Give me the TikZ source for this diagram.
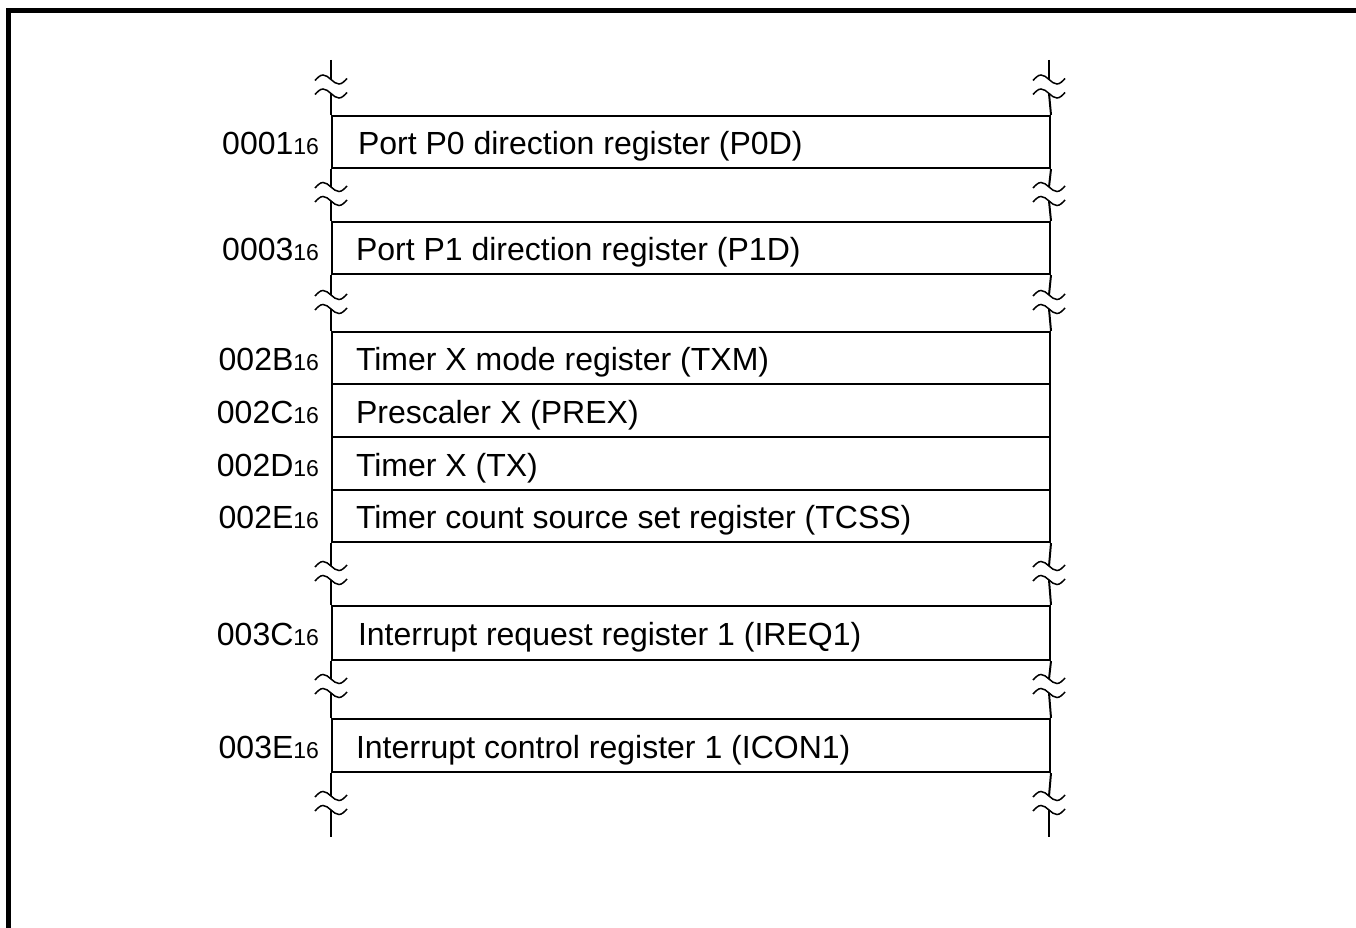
\documentclass[tikz,border=0pt]{standalone}
\usepackage{fontspec}
\setmainfont{Liberation Sans}
\newcommand\hexsub[1]{{\fontsize{23}{27}\selectfont #1}}
\begin{document}
\begin{tikzpicture}[x=1pt,y=-1pt,line width=2pt,
  regbox/.style={draw, minimum width=718pt, minimum height=#1, anchor=north west, inner sep=0pt},
  regtext/.style={anchor=base west, inner sep=0pt, font=\fontsize{32}{38}\selectfont},
  addr/.style={anchor=base east, inner sep=0pt, font=\fontsize{32}{38}\selectfont},
  brk/.pic={\draw[line width=1.5pt] (-16,1) sin (-8,-4.5) cos (0,0) sin (8,4.5) cos (16,-1);}]
\useasboundingbox (0,0) rectangle (1356,928);
% frame
\draw[line width=5pt] (8.5,928) -- (8.5,10.5) -- (1356,10.5);
% register boxes
\node[regbox=52pt] (r1) at (331,115) {};
\node[regbox=52pt] (r2) at (331,221) {};
\node[regbox=52pt] (r3) at (331,331) {};
\node[regbox=53pt] (r4) at (331,383) {};
\node[regbox=53pt] (r5) at (331,436) {};
\node[regbox=52pt] (r6) at (331,489) {};
\node[regbox=54pt] (r7) at (331,605) {};
\node[regbox=53pt] (r8) at (331,718) {};
% texts
\node[regtext] (t1) at (357,154.5) {Port P0 direction register (P0D)};
\node[regtext] (t2) at (355,260.5) {Port P1 direction register (P1D)};
\node[regtext] (t3) at (355,370.5) {Timer X mode register (TXM)};
\node[regtext] (t4) at (355,423) {Prescaler X (PREX)};
\node[regtext] (t5) at (355,476) {Timer X (TX)};
\node[regtext] (t6) at (355,528.5) {Timer count source set register (TCSS)};
\node[regtext] (t7) at (357,645.5) {Interrupt request register 1 (IREQ1)};
\node[regtext] (t8) at (355,758) {Interrupt control register 1 (ICON1)};
% addresses
\node[addr] (a1) at (320,154.5) {0001\hexsub{16}};
\node[addr] (a2) at (320,260.5) {0003\hexsub{16}};
\node[addr] (a3) at (320,370.5) {002B\hexsub{16}};
\node[addr] (a4) at (320,423) {002C\hexsub{16}};
\node[addr] (a5) at (320,476) {002D\hexsub{16}};
\node[addr] (a6) at (320,528.5) {002E\hexsub{16}};
\node[addr] (a7) at (320,645.5) {003C\hexsub{16}};
\node[addr] (a8) at (320,758) {003E\hexsub{16}};
% breaks
\foreach \s/\x in {L/331,R/1049}{
  \coordinate (top\s) at (\x,60);
  \coordinate (bot\s) at (\x,837);
  \foreach \n/\m in {a/86.5,b/194,c/302,d/573,e/686,f/803}{
    \coordinate (u\n\s) at (\x,\m-7);
    \coordinate (l\n\s) at (\x,\m+7);
    \pic at (u\n\s) {brk};
    \pic at (l\n\s) {brk};
  }
}
% vertical lines
\foreach \s/\c in {L/west,R/east}{
  \draw (top\s) -- (ua\s);
  \draw (la\s) -- (r1.north \c);
  \draw (r1.south \c) -- (ub\s);
  \draw (lb\s) -- (r2.north \c);
  \draw (r2.south \c) -- (uc\s);
  \draw (lc\s) -- (r3.north \c);
  \draw (r6.south \c) -- (ud\s);
  \draw (ld\s) -- (r7.north \c);
  \draw (r7.south \c) -- (ue\s);
  \draw (le\s) -- (r8.north \c);
  \draw (r8.south \c) -- (uf\s);
  \draw (lf\s) -- (bot\s);
}
\end{tikzpicture}
\end{document}
